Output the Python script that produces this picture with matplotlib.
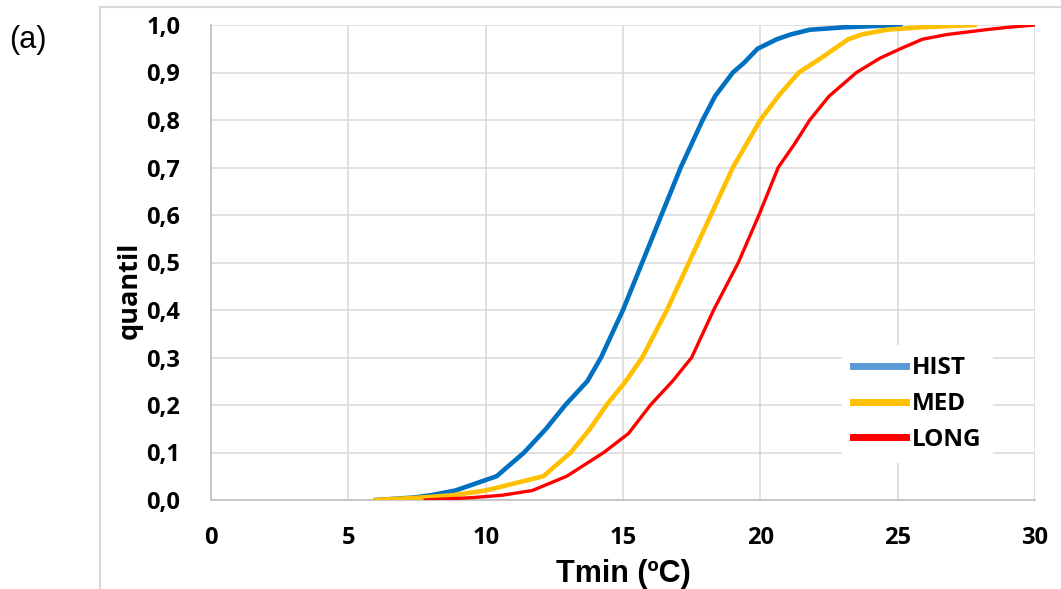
import numpy as np
import matplotlib.pyplot as plt
from matplotlib.lines import Line2D

# quantile curves (Tmin in ºC, quantile)
hist_q = [0, 0.005, 0.01, 0.02, 0.05, 0.1, 0.15, 0.2, 0.25, 0.3, 0.35, 0.4, 0.5,
          0.6, 0.7, 0.8, 0.85, 0.9, 0.92, 0.95, 0.97, 0.98, 0.99, 0.995, 1.0]
hist_t = [6.0, 7.35, 8.0, 8.9, 10.4, 11.4, 12.2, 12.9, 13.7, 14.2, 14.6, 15.0, 15.7,
          16.4, 17.1, 17.9, 18.35, 19.0, 19.4, 19.9, 20.6, 21.1, 21.8, 23.0, 25.1]

med_q = [0, 0.005, 0.01, 0.02, 0.05, 0.1, 0.15, 0.2, 0.25, 0.3, 0.4, 0.5, 0.6,
         0.7, 0.75, 0.8, 0.85, 0.9, 0.93, 0.95, 0.97, 0.98, 0.99, 0.995, 1.0]
med_t = [6.0, 7.6, 8.8, 10.0, 12.1, 13.1, 13.8, 14.4, 15.1, 15.7, 16.6, 17.4, 18.2,
         19.0, 19.5, 20.0, 20.65, 21.4, 22.2, 22.7, 23.2, 23.7, 24.6, 25.8, 27.8]

long_q = [0, 0.005, 0.01, 0.02, 0.05, 0.1, 0.14, 0.2, 0.25, 0.3, 0.4, 0.5, 0.6,
          0.65, 0.7, 0.75, 0.8, 0.85, 0.9, 0.93, 0.95, 0.97, 0.98, 0.99, 0.995, 1.0]
long_t = [7.8, 9.5, 10.6, 11.7, 12.95, 14.3, 15.2, 16.0, 16.8, 17.5, 18.3, 19.2, 19.95,
          20.3, 20.65, 21.25, 21.8, 22.5, 23.5, 24.35, 25.1, 25.9, 26.8, 28.2, 29.0, 30.0]

labels = ["HIST", "MED", "LONG"]
x_ticks = [0, 5, 10, 15, 20, 25, 30]
y_ticks = [0.0, 0.1, 0.2, 0.3, 0.4, 0.5, 0.6, 0.7, 0.8, 0.9, 1.0]

plt.rcParams['font.family'] = ['Open Sans', 'DejaVu Sans']

fig = plt.figure(figsize=(10.61, 5.89), dpi=100)
ax = fig.add_axes([211/1061, 1 - 500/589, 824/1061, 475/589])

gridc = '#D9D9D9'
ax.plot(hist_t, hist_q, color='#0070C0', lw=3.3, label=labels[0], zorder=3)
ax.plot(med_t, med_q, color='#FFC000', lw=3.3, label=labels[1], zorder=3)
ax.plot(long_t, long_q, color='#FF0000', lw=2.4, label=labels[2], zorder=3)

ax.set_xlim(0, 30)
ax.set_ylim(0, 1.0)
ax.set_xticks(x_ticks)
ax.set_yticks(y_ticks)
ax.set_yticklabels([f"{v:.1f}".replace('.', ',') for v in y_ticks])
ax.tick_params(length=0, labelsize=17)
ax.tick_params(axis='y', pad=22)
ax.tick_params(axis='x', pad=19)
for lab in ax.get_xticklabels() + ax.get_yticklabels():
    lab.set_fontweight('bold')

ax.grid(True, color=gridc, lw=1.1, zorder=0)
for s in ['top', 'right']:
    ax.spines[s].set_visible(False)
for s in ['left', 'bottom']:
    ax.spines[s].set_color('#BFBFBF')
    ax.spines[s].set_linewidth(1.2)

ax.set_xlabel('Tmin (ºC)', fontsize=22, fontweight='bold',
              family=['Liberation Sans', 'DejaVu Sans'])
ax.xaxis.set_label_coords(0.5, -0.155)
ax.xaxis.label.set_va('center')
ax.set_ylabel('quantil', fontsize=19.5, fontweight='bold')
ax.yaxis.set_label_coords(-0.098, 0.442)
ax.yaxis.label.set_va('center')

leg = ax.legend(loc='center', bbox_to_anchor=(0.857, 0.202),
                prop={'weight': 'bold', 'size': 17.5}, frameon=True,
                facecolor='white', edgecolor='none', framealpha=1, fancybox=False,
                handlelength=2.2, handletextpad=0.25, labelspacing=0.48, borderpad=0.45)
leg.set_zorder(5)
leg.legend_handles[0].set_color('#5B9BD5')
for h in leg.legend_handles:
    h.set_linewidth(5)

# outer chart-area frame (only left and top edges are visible)
fig.add_artist(Line2D([100/1061, 100/1061], [0, 1 - 7/589], color=gridc, lw=1.5,
                      transform=fig.transFigure))
fig.add_artist(Line2D([100/1061, 1], [1 - 7/589, 1 - 7/589], color=gridc, lw=1.5,
                      transform=fig.transFigure))

fig.text(9/1061, 1 - 40/589, '(a)', fontsize=22, va='center', ha='left',
         family=['Liberation Sans', 'DejaVu Sans'])

fig.savefig('out.png', dpi=100)
